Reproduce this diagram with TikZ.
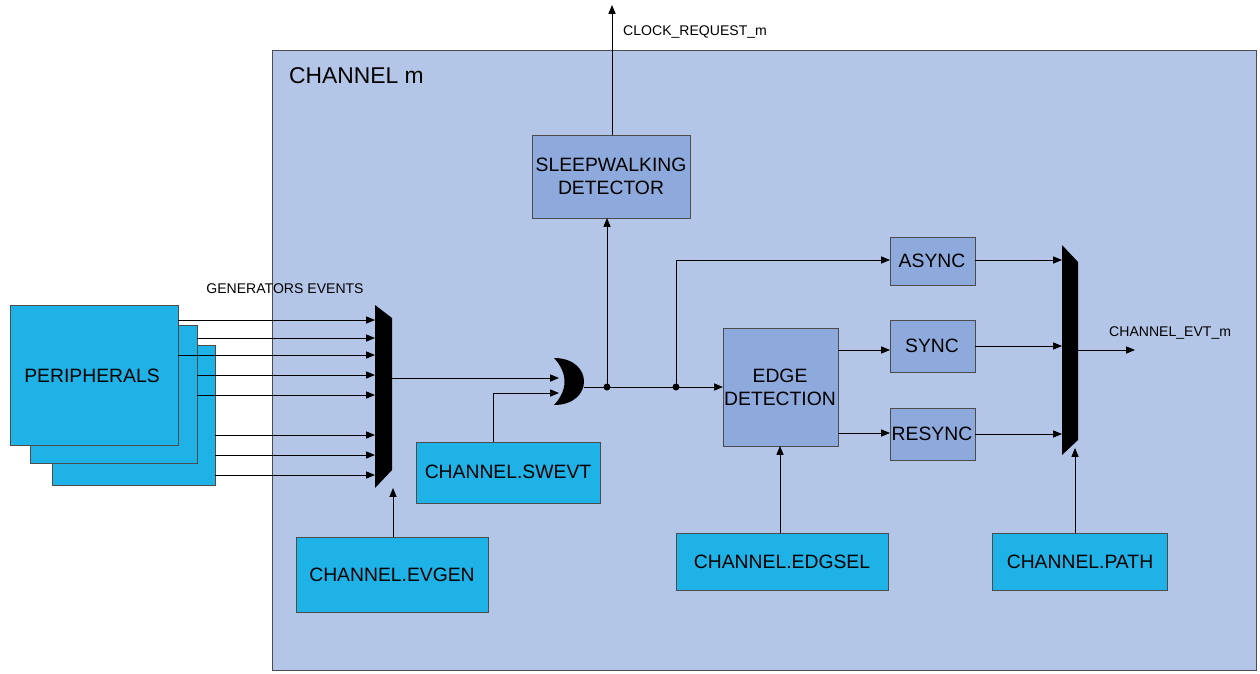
\documentclass[tikz,border=0pt]{standalone}
\usepackage{fontspec}
\setmainfont{Liberation Sans}
\usetikzlibrary{arrows.meta}
\definecolor{chbg}{HTML}{B4C6E7}
\definecolor{cy}{HTML}{1FB2E6}
\definecolor{bl}{HTML}{8EA9DB}
\begin{document}
\begin{tikzpicture}[x=0.02cm,y=-0.02cm,
  cyb/.style={draw=black!70,fill=cy,line width=0.5pt},
  blb/.style={draw=black!70,fill=bl,line width=0.5pt},
  lbl/.style={font=\fontsize{11}{13}\selectfont,align=center},
  sm/.style={font=\fontsize{8}{9}\selectfont},
  arr/.style={-{Triangle[length=5pt,width=4pt]},line width=0.5pt},
  ln/.style={line width=0.5pt}]
\useasboundingbox (0,0) rectangle (1260,673);
\fill[chbg,draw=black!70] (272,50) rectangle (1256,670);
\node[anchor=west,font=\fontsize{13}{15}\selectfont] (cm) at (283,76) {CHANNEL m};
% peripherals
\draw[cyb] (52,345) rectangle (215,485);
\draw[cyb] (30,325) rectangle (197,463);
\draw[cyb] (10,305) rectangle (178,445);
\node[lbl] (per) at (92,376) {PERIPHERALS};
\node[sm,anchor=south] (ge) at (285,300) {GENERATORS EVENTS};
% mux1
\fill (375,305) -- (392,318) -- (392,470) -- (375,488) -- cycle;
\coordinate (m1) at (392,378);
\foreach \y/\x in {320/178,338/197,355/178,375/197,395/197,435/215,455/215,475/215}
  \draw[arr] (\x,\y) -- (375,\y);
% OR gate
\fill (554,358) .. controls (594,358) and (594,405) .. (554,405) .. controls (568,390) and (568,373) .. (554,358);
\draw[arr] (m1) -- (559,378);
\draw[cyb] (416,442) rectangle (600,503);
\node[lbl] (swt) at (508,472) {CHANNEL.SWEVT};
\draw[arr] (493,442) |- (559,393);
\draw[cyb] (296,537) rectangle (488,612);
\node[lbl] (eg) at (392,575) {CHANNEL.EVGEN};
\draw[arr] (393,537) -- (393,488);
% sleepwalking
\draw[blb] (532,135) rectangle (690,218);
\node[lbl] (sl) at (611,176) {SLEEPWALKING\\DETECTOR};
\coordinate (d1) at (607,387);
\coordinate (d2) at (676,387);
\draw[ln] (584,387) -- (d1);
\fill (d1) circle (3.5); \fill (d2) circle (3.5);
\draw[arr] (d1) -- (607,218);
\draw[arr] (612,135) -- (612,5);
\node[sm,anchor=west] (clk) at (617,32) {CLOCK\_REQUEST\_m};
% edge detection
\draw[blb] (723,328) rectangle (838,446);
\node[lbl] (ed) at (780,387) {EDGE\\DETECTION};
\draw[arr] (d1) -- (723,387);
\draw[blb] (890,237) rectangle (975,285);
\node[lbl] (as) at (932,261) {ASYNC};
\draw[blb] (890,320) rectangle (975,372);
\node[lbl] (sy) at (932,346) {SYNC};
\draw[blb] (890,408) rectangle (975,460);
\node[lbl] (rs) at (932,434) {RESYNC};
\draw[arr] (d2) |- (890,260);
\draw[arr] (838,350) -- (890,350);
\draw[arr] (838,433) -- (890,433);
% mux2
\fill (1062,245) -- (1078,262) -- (1078,440) -- (1062,455) -- cycle;
\draw[arr] (975,260) -- (1062,260);
\draw[arr] (975,346) -- (1062,346);
\draw[arr] (975,434) -- (1062,434);
\draw[arr] (1078,350) -- (1135,350);
\node[sm,anchor=west] (evt) at (1103,333) {CHANNEL\_EVT\_m};
\draw[cyb] (676,533) rectangle (888,590);
\node[lbl] (es) at (782,562) {CHANNEL.EDGSEL};
\draw[arr] (780,533) -- (780,446);
\draw[cyb] (992,533) rectangle (1167,590);
\node[lbl] (pa) at (1080,562) {CHANNEL.PATH};
\draw[arr] (1075,533) -- (1075,448);
\end{tikzpicture}
\end{document}
